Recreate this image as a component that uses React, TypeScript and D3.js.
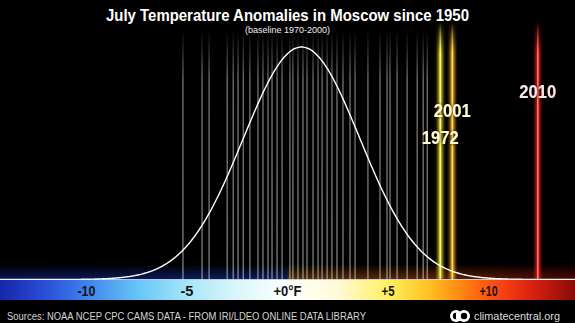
import React from "react";
import * as d3 from "d3";

const W = 575;
const H = 323;

const title = "July Temperature Anomalies in Moscow since 1950";
const subtitle = "(baseline 1970-2000)";
const source = "Sources: NOAA NCEP CPC CAMS DATA - FROM IRI/LDEO ONLINE DATA LIBRARY";
const brand = "climatecentral.org";

const tickValues = [-10, -5, 0, 5, 10];
const tickLabels = ["-10", "-5", "+0°F", "+5", "+10"];

// July anomalies (°F) of the ordinary years
const yearAnomalies = [
  -5.2, -4.25, -3.9, -3.0, -2.7, -2.46, -2.2, -1.87, -1.47, -1.22, -0.97, -0.77,
  -0.52, -0.27, 0.12, 0.27, 0.52, 0.77, 0.97, 1.27, 1.52, 1.72, 1.97, 2.21, 2.46,
  2.76, 3.11, 3.36, 4.0, 4.6, 4.95, 5.1, 5.45, 5.95, 6.45, 6.75, 6.95,
];

// highlighted years
const hotYears = ["1972", "2001", "2010"];
const hotAnomalies = [7.6, 8.2, 12.45];
const hotCore = ["#fff48a", "#ffd870", "#ff7a7a"];
const hotGlow = ["#d8d020", "#e8a818", "#e01818"];
const hotLabelColor = ["#fffbd0", "#fffbd0", "#ffe4e4"];
const hotLabelY = [144, 117, 98];

// fitted normal curve parameters
const curveMean = [0.7];
const curveSd = [2.9];

// colour bar stops (°F -> colour)
const barStopValues = [-14.3, -12, -10, -7.5, -5, -2.5, 0, 2.5, 5, 7, 8.5, 10, 12, 14.3];
const barStopColors = [
  "#1626a8", "#2a4fd8", "#3f82ee", "#66c4f8", "#a6e6fa", "#dcf6fb", "#ffffff",
  "#fffbd8", "#fff060", "#ffc224", "#ff8c12", "#ff5410", "#de2410", "#8a0a08",
];

// glow above the bar (°F -> colour)
const glowStopValues = [-14.3, -0.01, 0.01, 8, 14.3];
const glowStopColors = ["#1a30c0", "#2048d0", "#c07018", "#e05010", "#b01008"];

export default function App() {
  const x = d3.scaleLinear().domain([-14.3, 14.3]).range([0, W]);
  const yBase = 279.5;
  const y = d3.scaleLinear().domain([0, 1]).range([yBase, 47]);
  const pts = d3.range(-14.3, 14.31, 0.05).map((t) => [
    t,
    Math.exp(-0.5 * Math.pow((t - curveMean[0]) / curveSd[0], 2)),
  ]);
  const line = d3
    .line<number[]>()
    .x((d) => x(d[0]))
    .y((d) => y(d[1]))
    .curve(d3.curveBasis);

  const barTop = 280;
  const barBottom = 300;

  return (
    <svg
      width={W}
      height={H}
      style={{ position: "absolute", left: 0, top: 0, background: "#000" }}
      fontFamily="'Liberation Sans', Arial, sans-serif"
    >
      <defs>
        <linearGradient id="bar" x1="0" x2={W} y1="0" y2="0" gradientUnits="userSpaceOnUse">
          {barStopValues.map((v, i) => (
            <stop key={i} offset={x(v) / W} stopColor={barStopColors[i]} />
          ))}
        </linearGradient>
        <linearGradient id="glowbar" x1="0" x2={W} y1="0" y2="0" gradientUnits="userSpaceOnUse">
          {glowStopValues.map((v, i) => (
            <stop key={i} offset={x(v) / W} stopColor={glowStopColors[i]} />
          ))}
        </linearGradient>
        <linearGradient id="fade" x1="0" x2="0" y1="30" y2={yBase} gradientUnits="userSpaceOnUse">
          <stop offset="0" stopColor="#fff" stopOpacity="0" />
          <stop offset="0.2" stopColor="#fff" stopOpacity="0.45" />
          <stop offset="1" stopColor="#fff" stopOpacity="0.5" />
        </linearGradient>
        <linearGradient id="glowfade" x1="0" x2="0" y1="264" y2={barTop} gradientUnits="userSpaceOnUse">
          <stop offset="0" stopColor="#fff" stopOpacity="0" />
          <stop offset="1" stopColor="#fff" stopOpacity="1" />
        </linearGradient>
        <mask id="glowmask" maskUnits="userSpaceOnUse" x="0" y="0" width={W} height={H}>
          <rect x="0" y="264" width={W} height={barTop - 264} fill="url(#glowfade)" />
        </mask>
        {hotYears.map((yr, i) => (
          <linearGradient key={yr} id={`hf${i}`} x1="0" x2="0" y1="22" y2={yBase} gradientUnits="userSpaceOnUse">
            <stop offset="0" stopColor={hotCore[i]} stopOpacity="0" />
            <stop offset="0.12" stopColor={hotCore[i]} stopOpacity="1" />
            <stop offset="1" stopColor={hotCore[i]} stopOpacity="1" />
          </linearGradient>
        ))}
        {hotYears.map((yr, i) => (
          <linearGradient key={yr} id={`hg${i}`} x1="0" x2="0" y1="22" y2={yBase} gradientUnits="userSpaceOnUse">
            <stop offset="0" stopColor={hotGlow[i]} stopOpacity="0" />
            <stop offset="0.12" stopColor={hotGlow[i]} stopOpacity="0.9" />
            <stop offset="1" stopColor={hotGlow[i]} stopOpacity="0.9" />
          </linearGradient>
        ))}
        <filter id="blur" filterUnits="userSpaceOnUse" x="0" y="0" width={W} height={H}>
          <feGaussianBlur stdDeviation="1.8" />
        </filter>
        <filter id="tglow" x="-20%" y="-40%" width="140%" height="180%">
          <feGaussianBlur in="SourceAlpha" stdDeviation="1.5" result="b" />
          <feFlood floodColor="#000" floodOpacity="0.8" />
          <feComposite in2="b" operator="in" result="s" />
          <feMerge>
            <feMergeNode in="s" />
            <feMergeNode in="SourceGraphic" />
          </feMerge>
        </filter>
      </defs>

      <rect x="0" y="0" width={W} height={H} fill="#000" />

      {/* glow above the bar */}
      <rect x="0" y="264" width={W} height={barTop - 264} fill="url(#glowbar)" opacity="0.45" mask="url(#glowmask)" />

      {/* ordinary year lines */}
      {yearAnomalies.map((v, i) => (
        <line
          key={i}
          x1={x(v)}
          x2={x(v)}
          y1={30}
          y2={yBase}
          stroke="url(#fade)"
          strokeWidth={1.3}
        />
      ))}

      {/* highlighted year lines */}
      {hotAnomalies.map((v, i) => (
        <g key={i}>
          <line x1={x(v)} x2={x(v)} y1={22} y2={yBase} stroke={`url(#hg${i})`} strokeWidth={5} filter="url(#blur)" />
          <line x1={x(v)} x2={x(v)} y1={22} y2={yBase} stroke={`url(#hf${i})`} strokeWidth={1.5} />
        </g>
      ))}

      {/* normal curve */}
      <path d={line(pts) || ""} fill="none" stroke="#fff" strokeWidth={1.4} />

      {/* baseline */}
      <line x1={0} x2={W} y1={yBase} y2={yBase} stroke="#e8f4ff" strokeWidth={1} opacity={0.8} />

      {/* colour bar */}
      <rect x="0" y={barTop} width={W} height={barBottom - barTop} fill="url(#bar)" />
      {tickValues.map((v, i) => (
        <text
          key={v}
          x={x(v)}
          y={296}
          textAnchor="middle"
          fontSize={14.5}
          fontWeight="bold"
          fill="#141414"
          textLength={v === 0 ? 28 : v === 10 || v === -10 ? 18 : 13}
          lengthAdjust="spacingAndGlyphs"
        >
          {tickLabels[i]}
        </text>
      ))}

      {/* year labels */}
      {hotYears.map((yr, i) => (
        <text
          key={yr}
          x={x(hotAnomalies[i])}
          y={hotLabelY[i]}
          textAnchor="middle"
          fontSize={18}
          fontWeight="bold"
          fill={hotLabelColor[i]}
          textLength={37}
          lengthAdjust="spacingAndGlyphs"
          filter="url(#tglow)"
        >
          {yr}
        </text>
      ))}

      {/* title */}
      <text
        x={287.5}
        y={21}
        textAnchor="middle"
        fontSize={16.5}
        fontWeight="bold"
        fill="#fff"
        textLength={363}
        lengthAdjust="spacingAndGlyphs"
      >
        {title}
      </text>
      <text
        x={287.5}
        y={33}
        textAnchor="middle"
        fontSize={9.5}
        fill="#eee"
        textLength={85}
        lengthAdjust="spacingAndGlyphs"
      >
        {subtitle}
      </text>

      {/* footer */}
      <text
        x={7}
        y={320}
        fontSize={10}
        fill="#d4d4d4"
        textLength={359}
        lengthAdjust="spacingAndGlyphs"
      >
        {source}
      </text>
      <g>
        <circle cx={456} cy={316} r={6} fill="#fff" />
        <circle cx={464} cy={316} r={6} fill="#fff" />
        <circle cx={456} cy={316} r={3.2} fill="#000" />
        <circle cx={464} cy={316} r={3.2} fill="#000" />
        <rect x={456} y={313} width={4} height={6} fill="#fff" />
      </g>
      <text
        x={474}
        y={320}
        fontSize={11}
        fill="#dcdcdc"
        textLength={86}
        lengthAdjust="spacingAndGlyphs"
      >
        {brand}
      </text>
    </svg>
  );
}
